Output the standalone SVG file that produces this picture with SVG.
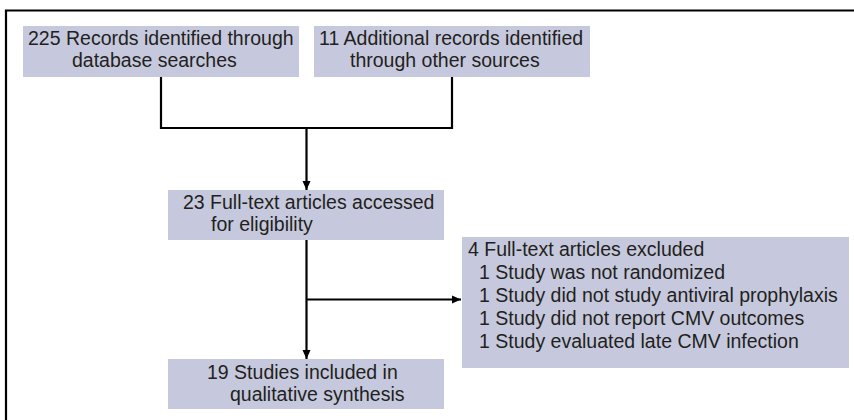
<svg xmlns="http://www.w3.org/2000/svg" width="854" height="420" viewBox="0 0 854 420">
<style>
.box{fill:#c6c9dd}
.t{font-family:"Liberation Sans",Arial,sans-serif;font-size:19.5px;fill:#231f20}
.ln{fill:none;stroke:#000;stroke-width:2.2}
</style>
<defs>
<marker id="ah" markerWidth="10" markerHeight="10" refX="9" refY="5" orient="auto" markerUnits="userSpaceOnUse">
<path d="M0,1 L9,5 L0,9 z" fill="#000"/>
</marker>
</defs>
<rect width="854" height="420" fill="#fff"/>
<path d="M6,420 V10.5 H854" fill="none" stroke="#000" stroke-width="2.2"/>
<g id="n1">
<rect class="box" x="23" y="26" width="276" height="51"/>
<text class="t" x="28" y="45">225 Records identified through</text>
<text class="t" x="72" y="67">database searches</text>
</g>
<g id="n2">
<rect class="box" x="314" y="26" width="276" height="51"/>
<text class="t" x="319" y="45">11 Additional records identified</text>
<text class="t" x="350" y="67">through other sources</text>
</g>
<g id="n3">
<rect class="box" x="168" y="190" width="276" height="50"/>
<text class="t" x="183" y="209">23 Full-text articles accessed</text>
<text class="t" x="211" y="231">for eligibility</text>
</g>
<g id="n4">
<rect class="box" x="462" y="237" width="387" height="131"/>
<text class="t" x="468" y="256">4 Full-text articles excluded</text>
<text class="t" x="479" y="279">1 Study was not randomized</text>
<text class="t" x="479" y="302">1 Study did not study antiviral prophylaxis</text>
<text class="t" x="479" y="325">1 Study did not report CMV outcomes</text>
<text class="t" x="479" y="348">1 Study evaluated late CMV infection</text>
</g>
<g id="n5">
<rect class="box" x="168" y="359" width="276" height="50"/>
<text class="t" x="207" y="379">19 Studies included in</text>
<text class="t" x="230" y="401">qualitative synthesis</text>
</g>
<g id="connectors">
<path class="ln" d="M161,77 V128 H452 V77"/>
<path class="ln" d="M306.5,128 V190" marker-end="url(#ah)"/>
<path class="ln" d="M306.5,240 V359" marker-end="url(#ah)"/>
<path class="ln" d="M306.5,299.5 H461" marker-end="url(#ah)"/>
</g>
</svg>
